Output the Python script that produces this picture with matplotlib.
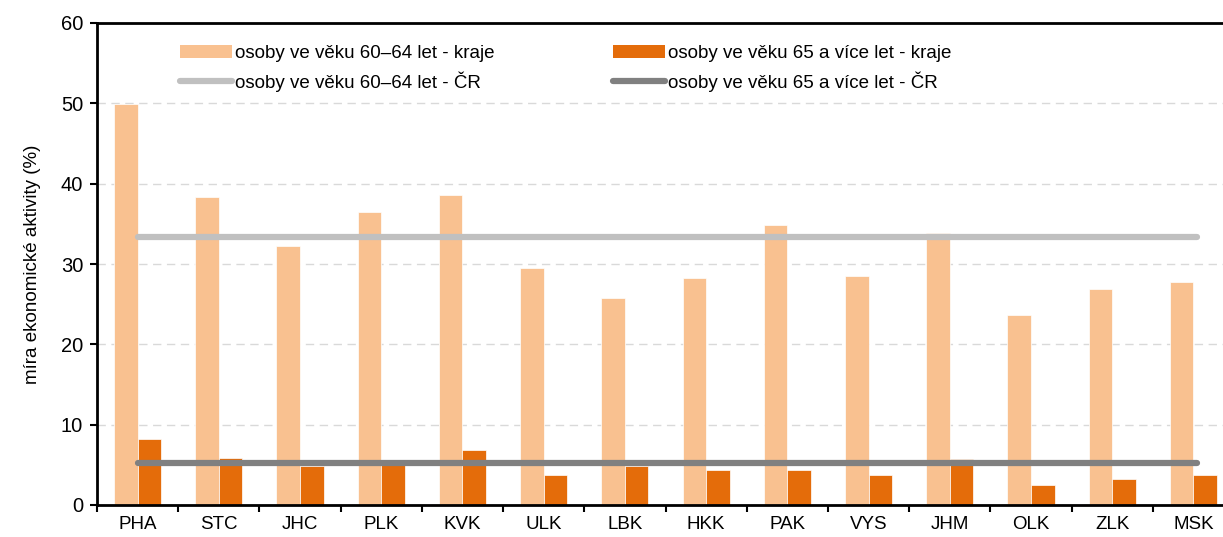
import numpy as np
import matplotlib
matplotlib.use("Agg")
import matplotlib.pyplot as plt
from matplotlib.patches import Patch
from matplotlib.lines import Line2D

plt.rcParams['font.family'] = ['Liberation Sans', 'DejaVu Sans']

# === data ===
kraje = ['PHA', 'STC', 'JHC', 'PLK', 'KVK', 'ULK', 'LBK', 'HKK', 'PAK', 'VYS', 'JHM', 'OLK', 'ZLK', 'MSK']
vek_60_64 = [49.9, 38.4, 32.3, 36.5, 38.6, 29.5, 25.8, 28.3, 34.9, 28.5, 33.9, 23.7, 26.9, 27.8]
vek_65_plus = [8.2, 5.9, 4.9, 5.0, 6.9, 3.7, 4.9, 4.3, 4.3, 3.7, 5.7, 2.5, 3.2, 3.7]
cr_60_64 = 33.4
cr_65_plus = 5.2

labels = ['osoby ve věku 60–64 let - kraje', 'osoby ve věku 65 a více let - kraje',
          'osoby ve věku 60–64 let - ČR', 'osoby ve věku 65 a více let - ČR']

c_light = '#f9c190'
c_dark = '#e46c0a'
c_line_light = '#c0c0c0'
c_line_dark = '#808080'

fig = plt.figure(figsize=(12.23, 5.37), dpi=100)
ax = fig.add_axes([97/1223, 32/537, 1137/1223, 482/537])

x = np.arange(len(kraje))
w = 0.29
ax.bar(x - w/2, vek_60_64, width=w, color=c_light, edgecolor='white', linewidth=0.5, zorder=2)
ax.bar(x + w/2, vek_65_plus, width=w, color=c_dark, edgecolor='white', linewidth=0.5, zorder=2)

ax.plot([x[0], x[-1] + 0.05], [cr_60_64, cr_60_64], color=c_line_light, lw=4.5, solid_capstyle='round', zorder=3)
ax.plot([x[0], x[-1] + 0.05], [cr_65_plus, cr_65_plus], color=c_line_dark, lw=4.5, solid_capstyle='round', zorder=3)

ax.set_xlim(-0.5, len(kraje) - 0.5)
ax.set_ylim(0, 60)
ax.set_yticks(range(0, 61, 10))
ax.yaxis.grid(True, color='#d9d9d9', linestyle=(0, (6, 4)), lw=1, zorder=0)
ax.set_axisbelow(True)

ax.set_xticks(x)
ax.set_xticklabels(kraje)
ax.set_xticks(np.arange(-0.5, len(kraje), 1), minor=True)
ax.tick_params(axis='x', which='major', length=0, pad=8, labelsize=13.5)
ax.tick_params(axis='x', which='minor', length=5, width=1.5, direction='out')
ax.tick_params(axis='y', length=5, width=1.5, direction='out', labelsize=14.5, pad=5)

for s in ['left', 'bottom', 'top']:
    ax.spines[s].set_linewidth(2)
ax.spines['right'].set_visible(False)

ax.set_ylabel('míra ekonomické aktivity (%)', fontsize=13.5, labelpad=14)

handles = [
    Patch(facecolor=c_light, edgecolor='none'),
    Line2D([], [], color=c_line_light, lw=4.5, solid_capstyle='round'),
    Patch(facecolor=c_dark, edgecolor='none'),
    Line2D([], [], color=c_line_dark, lw=4.5, solid_capstyle='round'),
]
ax.legend(handles, [labels[0], labels[2], labels[1], labels[3]], ncol=2,
          loc='upper left', bbox_to_anchor=(0.058, 0.99), frameon=False,
          fontsize=13.5, handlelength=2.8, handleheight=0.75, handletextpad=0.15,
          labelspacing=0.5, columnspacing=6.3)

fig.savefig('out.png', dpi=100)
